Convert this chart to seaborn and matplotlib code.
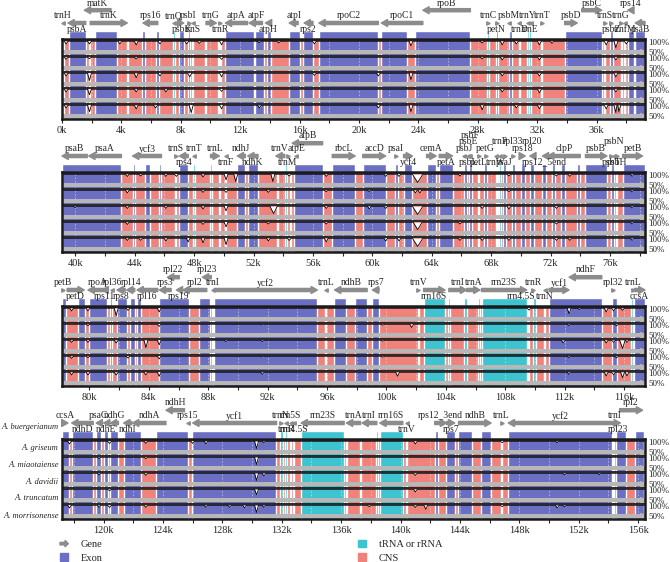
import numpy as np
import pandas as pd
import matplotlib
matplotlib.use("Agg")
import matplotlib.pyplot as plt
import seaborn as sns
from matplotlib.patches import Patch, FancyArrow
from matplotlib.legend_handler import HandlerPatch

sns.set_style("white")
plt.rcParams['font.family'] = ['Liberation Serif', 'DejaVu Serif']

# ---- data (kb) ----
species = ["A. buergerianum", "A. griseum", "A. miaotaiense", "A. davidii",
           "A. truncatum", "A. morrisonense"]

panel_start = [0, 39.1, 78.15, 117.2]
panel_span = 39.26

# exon blocks and tRNA/rRNA blocks; everything else is CNS
exon_blocks = [(0.5, 1.6), (2.2, 3.7), (5.4, 5.6), (6.35, 6.5), (7.9, 8.2), (8.47, 8.63),
               (10.95, 12.95), (13.0, 13.6), (13.8, 14.1), (15.3, 16.0), (16.25, 16.9),
               (17.3, 21.3), (21.5, 23.2), (23.8, 27.5), (29.2, 29.35), (30.1, 30.3),
               (33.85, 36.35), (36.9, 37.1), (38.1, 38.5), (38.6, 43.1),
               (43.85, 44.0), (44.7, 45.0), (45.65, 45.8), (47.0, 47.6), (50.9, 51.45),
               (51.6, 52.3), (54.7, 56.65), (57.3, 58.85), (59.35, 60.9), (61.5, 61.7),
               (62.1, 62.7), (63.65, 64.3), (64.5, 65.4), (66.2, 66.35), (66.5, 66.7),
               (67.1, 67.2), (67.55, 67.7), (68.8, 69.0), (69.4, 69.6), (70.0, 70.3),
               (70.6, 70.9), (71.45, 71.7), (72.1, 72.3), (72.7, 73.0), (73.8, 74.0),
               (74.35, 75.8), (76.1, 76.25), (76.4, 76.5), (76.85, 78.4),
               (79.2, 79.7), (79.95, 81.2), (81.35, 81.55), (81.85, 82.5), (82.7, 83.05),
               (83.2, 83.5), (84.7, 86.7), (87.4, 88.15), (88.4, 95.3), (96.5, 97.3),
               (97.9, 98.7), (99.05, 99.5), (110.95, 114.5), (115.2, 115.5), (116.7, 117.65),
               (117.85, 119.3), (119.5, 119.8), (120.0, 120.3), (120.45, 121.0),
               (121.35, 122.55), (123.55, 125.7), (125.95, 131.6), (142.3, 142.5),
               (143.05, 143.65), (143.9, 144.8), (145.4, 146.1), (147.25, 154.25),
               (154.5, 155.2), (155.8, 156.4)]
rna_blocks = [(0.05, 0.15), (1.8, 1.9), (4.35, 4.45), (7.5, 7.6), (8.75, 8.83), (9.65, 9.73),
              (10.5, 10.57), (10.65, 10.73), (28.65, 28.75), (30.75, 30.85), (31.33, 31.43),
              (31.48, 31.58), (32.25, 32.35), (36.48, 36.56), (37.65, 37.73), (37.85, 37.93),
              (46.7, 46.8), (47.95, 48.05), (49.1, 49.2), (49.65, 49.75), (50.05, 50.15),
              (53.55, 53.65), (54.15, 54.25), (54.45, 54.55), (68.3, 68.4), (68.45, 68.52),
              (68.55, 68.65),
              (88.25, 88.35), (95.85, 95.95), (102.1, 102.2), (102.5, 103.95), (104.15, 104.25),
              (105.25, 105.4), (106.15, 106.3), (106.4, 109.45), (109.5, 109.58),
              (109.9, 110.05), (110.6, 110.7), (116.5, 116.6),
              (131.85, 132.05), (132.25, 132.35), (132.55, 132.63), (132.75, 132.83),
              (133.3, 136.2), (136.3, 136.4), (137.25, 137.35), (138.35, 138.45),
              (138.6, 140.15), (140.35, 140.45), (146.75, 146.85), (154.28, 154.36)]

# genes: (name, start, end, strand, lane)
genes_p1 = [("trnH", 0.0, 0.1, -1, "a"), ("psbA", 0.4, 1.6, -1, "b"), ("matK", 1.5, 3.3, -1, "c"),
            ("trnK", 1.9, 4.4, 1, "a"), ("rps16", 5.45, 6.45, -1, "a"), ("trnQ", 7.5, 7.6, -1, "a"),
            ("psbK", 7.9, 8.2, 1, "b"), ("psbI", 8.45, 8.6, 1, "a"), ("trnS", 8.75, 8.85, -1, "b"),
            ("trnG", 9.7, 10.4, 1, "a"), ("trnR", 10.6, 10.7, 1, "b"), ("atpA", 11.0, 12.5, -1, "a"),
            ("atpF", 12.6, 13.5, -1, "a"), ("atpH", 13.7, 14.0, -1, "b"), ("atpI", 15.3, 15.9, -1, "a"),
            ("rps2", 16.3, 16.9, -1, "b"), ("rpoC2", 17.3, 21.3, -1, "a"), ("rpoC1", 21.5, 24.3, -1, "a"),
            ("rpoB", 24.3, 27.5, -1, "c"), ("trnC", 28.65, 28.75, 1, "a"), ("petN", 29.2, 29.35, 1, "b"),
            ("psbM", 30.05, 30.15, -1, "a"), ("trnD", 30.75, 30.85, -1, "b"),
            ("trnY", 31.3, 31.4, -1, "a"), ("trnE", 31.5, 31.6, -1, "b"), ("trnT", 32.3, 32.4, 1, "a"),
            ("psbD", 33.85, 34.7, 1, "a"), ("psbC", 35.0, 36.35, 1, "c"), ("trnS", 36.55, 36.65, 1, "a"),
            ("psbZ", 36.95, 37.05, 1, "b"), ("trnG", 37.6, 37.7, 1, "a"), ("trnfM", 37.85, 37.95, -1, "b"),
            ("rps14", 38.1, 38.5, -1, "c"), ("psaB", 38.6, 39.3, -1, "b")]
genes_p2 = [("psaB", 39.1, 40.8, -1, "a"), ("psaA", 40.9, 43.1, -1, "a"), ("ycf3", 43.85, 45.8, -1, "a"),
            ("trnS", 46.7, 46.8, 1, "a"), ("rps4", 47.0, 47.6, -1, "b"), ("trnT", 47.95, 48.05, -1, "a"),
            ("trnL", 49.1, 49.7, 1, "a"), ("trnF", 50.1, 50.2, -1, "b"), ("ndhJ", 50.9, 51.45, -1, "a"),
            ("ndhK", 51.6, 52.3, -1, "b"), ("trnV", 53.5, 54.1, -1, "a"), ("trnM", 54.25, 54.35, 1, "b"),
            ("atpE", 54.8, 54.95, -1, "a"), ("atpB", 54.6, 56.65, -1, "c"), ("rbcL", 57.3, 58.85, 1, "a"),
            ("accD", 59.35, 60.9, 1, "a"), ("psaI", 61.5, 61.7, 1, "a"), ("ycf4", 62.1, 62.7, 1, "b"),
            ("cemA", 63.65, 64.3, 1, "a"), ("petA", 64.5, 65.4, 1, "b"), ("psbJ", 66.15, 66.25, -1, "a"),
            ("psbE", 66.45, 66.55, -1, "e"), ("psbF", 66.55, 66.65, -1, "f"), ("psbL", 66.4, 66.5, -1, "b"),
            ("petL", 67.1, 67.2, 1, "b"), ("petG", 67.55, 67.7, 1, "a"), ("trnW", 68.3, 68.4, -1, "b"),
            ("trnP", 68.55, 68.65, -1, "e"), ("psaJ", 68.8, 69.0, 1, "b"), ("rpl33", 69.4, 69.6, 1, "e"),
            ("rps18", 70.0, 70.3, 1, "a"), ("rpl20", 70.6, 70.9, -1, "e"),
            ("rps12_5end", 71.45, 71.7, -1, "b"), ("clpP", 71.8, 74.0, -1, "a"),
            ("psbB", 74.35, 75.8, 1, "a"), ("psbT", 76.05, 76.15, 1, "b"), ("psbN", 76.2, 76.3, -1, "e"),
            ("psbH", 76.4, 76.5, 1, "b"), ("petB", 76.85, 78.2, 1, "a")]
genes_p3 = [("petB", 78.15, 78.3, 1, "a"), ("petD", 78.5, 79.65, 1, "b"), ("rpoA", 79.9, 81.2, -1, "a"),
            ("rps11", 80.85, 81.1, -1, "b"), ("rpl36", 81.45, 81.55, -1, "a"), ("rps8", 81.85, 82.4, -1, "b"),
            ("rpl14", 82.5, 83.05, -1, "a"), ("rpl16", 83.2, 84.6, -1, "b"), ("rps3", 84.7, 85.5, -1, "a"),
            ("rpl22", 85.25, 86.05, -1, "c"), ("rps19", 85.85, 86.2, -1, "b"), ("rpl2", 86.3, 87.9, -1, "a"),
            ("rpl23", 87.6, 88.2, -1, "c"), ("trnI", 88.25, 88.35, -1, "a"), ("ycf2", 88.4, 95.35, 1, "a"),
            ("trnL", 95.9, 96.0, -1, "a"), ("ndhB", 96.5, 98.7, -1, "a"), ("rps7", 99.05, 99.5, -1, "a"),
            ("trnV", 102.1, 102.2, 1, "a"), ("rrn16S", 102.5, 103.95, 1, "b"), ("trnI", 104.2, 105.4, 1, "a"),
            ("trnA", 105.4, 106.3, 1, "a"), ("rrn23S", 106.4, 109.45, 1, "a"),
            ("rrn4.5S", 109.0, 109.1, 1, "b"), ("trnR", 109.85, 109.95, 1, "a"),
            ("trnN", 110.6, 110.7, -1, "b"), ("ycf1", 110.95, 112.3, 1, "a"), ("ndhF", 112.3, 114.5, -1, "c"),
            ("rpl32", 115.2, 115.3, 1, "a"), ("trnL", 116.55, 116.65, 1, "a"), ("ccsA", 116.7, 117.41, 1, "b")]
genes_p4 = [("ccsA", 117.2, 117.6, 1, "a"), ("ndhD", 117.85, 119.3, -1, "b"), ("psaC", 119.5, 119.8, -1, "a"),
            ("ndhE", 120.0, 120.3, -1, "b"), ("ndhG", 120.45, 121.0, -1, "a"), ("ndhI", 121.35, 121.9, -1, "b"),
            ("ndhA", 121.95, 124.2, -1, "a"), ("ndhH", 124.2, 125.45, -1, "c"), ("rps15", 125.6, 125.75, -1, "a"),
            ("ycf1", 126.0, 131.65, -1, "a"), ("trnN", 131.9, 132.0, 1, "a"), ("trnR", 132.25, 132.35, -1, "b"),
            ("rrn5S", 132.55, 132.65, -1, "a"), ("rrn4.5S", 132.8, 132.9, -1, "b"),
            ("rrn23S", 133.3, 136.2, -1, "a"), ("trnA", 136.35, 137.3, -1, "a"), ("trnI", 137.4, 138.4, -1, "a"),
            ("rrn16S", 138.6, 140.15, -1, "a"), ("trnV", 140.35, 140.45, -1, "b"),
            ("rps12_3end", 142.3, 143.1, 1, "a"), ("rps7", 143.1, 143.65, 1, "b"), ("ndhB", 143.9, 146.1, 1, "a"),
            ("trnL", 146.75, 146.85, 1, "a"), ("ycf2", 147.25, 154.25, -1, "a"), ("trnI", 154.35, 154.45, 1, "a"),
            ("rpl23", 154.5, 154.8, 1, "b"), ("rpl2", 154.75, 156.3, 1, "c")]
panel_genes = [genes_p1, genes_p2, genes_p3, genes_p4]

# conservation dips per compared species: (position kb, identity %[, half width kb])
dips_griseum = [(0.28, 85), (1.85, 85), (3.9, 85), (5.0, 80), (6.6, 85), (8.4, 85), (9.25, 88),
                (10.75, 80), (13.3, 92), (14.6, 90), (17.0, 85), (23.5, 75), (28.3, 90),
                (29.65, 80), (30.6, 85), (32.15, 80), (33.0, 88), (36.65, 80), (37.3, 65),
                (38.0, 85), (43.5, 88), (44.4, 90), (46.1, 88), (46.8, 88), (48.6, 85),
                (50.15, 70), (50.8, 60), (53.3, 60), (54.4, 90), (56.9, 88), (60.9, 88),
                (61.8, 88), (63.05, 55, 0.35), (65.9, 90), (69.2, 90), (72.4, 90), (73.3, 88),
                (77.5, 88), (78.8, 85), (79.9, 85), (81.8, 60), (82.6, 88), (84.7, 80),
                (109.6, 90), (112.3, 70), (113.0, 92), (114.8, 80), (115.3, 85), (115.9, 88),
                (117.7, 85), (120.4, 88), (122.85, 88), (126.0, 88), (126.9, 85), (130.3, 60),
                (130.8, 92), (141.0, 85), (146.85, 92), (150.55, 92)]
dips_miaotaiense = [(0.28, 88), (1.85, 92), (5.0, 90), (10.75, 88), (28.3, 90), (29.65, 85),
                    (32.15, 85), (37.3, 85), (43.5, 85), (48.6, 88), (50.15, 88), (53.0, 88),
                    (56.9, 92), (59.8, 92), (62.9, 85), (63.2, 85), (69.2, 92), (77.5, 90),
                    (79.9, 92), (84.7, 88), (91.65, 95), (99.75, 95), (101.7, 82), (112.3, 92),
                    (115.5, 92), (119.7, 92), (122.85, 92), (130.3, 60)]
dips_davidii = [(0.28, 85), (1.85, 60), (5.0, 75), (6.6, 85), (8.6, 80), (10.75, 80), (17.0, 88),
                (21.3, 85), (23.5, 65), (29.65, 85), (32.15, 85), (37.3, 80), (40.0, 92),
                (43.5, 88), (46.1, 88), (48.6, 85), (50.15, 75), (53.35, 60, 0.25), (56.9, 88),
                (59.8, 85), (60.9, 88), (63.05, 55, 0.35), (67.4, 88), (69.2, 85), (72.4, 88),
                (77.5, 90), (78.8, 88), (79.9, 88), (81.8, 85), (83.8, 60), (84.7, 75),
                (89.2, 92), (91.65, 92), (99.75, 95), (111.9, 85), (114.8, 85), (115.3, 88),
                (115.9, 55, 0.2), (116.2, 88), (119.7, 90), (122.85, 88), (130.3, 60),
                (130.8, 85), (141.0, 88), (151.05, 90), (153.4, 92)]
dips_truncatum = [(0.28, 85), (1.85, 70), (5.0, 85), (7.0, 85), (10.75, 88), (29.65, 85),
                  (32.15, 80), (37.3, 85), (43.5, 88), (48.6, 88), (50.15, 75), (53.0, 90),
                  (56.9, 90), (63.05, 60, 0.3), (65.9, 90), (72.4, 90), (77.5, 90), (78.8, 88),
                  (79.9, 92), (82.6, 90), (84.7, 85), (91.65, 95), (99.75, 95), (112.3, 92),
                  (115.5, 92), (120.4, 92), (130.3, 70), (141.0, 85)]
dips_morrisonense = [(0.28, 85), (1.85, 65), (5.0, 80), (6.3, 85), (8.7, 60), (10.75, 80),
                     (13.3, 85), (21.3, 85), (23.5, 65), (28.3, 75), (30.6, 85), (32.15, 80),
                     (36.65, 80), (37.3, 60), (37.5, 65), (43.5, 88), (44.4, 88), (46.1, 85),
                     (47.6, 80), (48.6, 75), (50.15, 65), (53.0, 85), (54.4, 88), (56.9, 80),
                     (60.9, 85), (61.8, 85), (63.05, 55, 0.35), (65.9, 88), (67.4, 88),
                     (69.2, 88), (72.4, 88), (73.3, 88), (77.5, 88), (78.8, 85), (79.9, 85),
                     (81.8, 85), (83.8, 85), (84.7, 78), (91.65, 88), (100.75, 78), (112.3, 88),
                     (114.8, 80), (115.3, 85), (115.9, 70), (116.2, 80), (117.7, 85),
                     (119.7, 88), (120.4, 88), (122.85, 88), (126.9, 88), (128.5, 88),
                     (129.5, 85), (130.3, 60), (130.8, 88), (137.9, 92), (141.0, 88),
                     (141.7, 78), (146.85, 92), (150.55, 85), (151.05, 90)]
track_dips = [dips_griseum, dips_miaotaiense, dips_davidii, dips_truncatum, dips_morrisonense]

# ---- style ----
EXON = "#6b6fc4"
RNA = "#3ec4d0"
CNS = "#f0827b"
GREY = "#8c8c8c"
lane_pos = {"a": (6.0, 6.45), "b": (6.0, 5.62), "c": (6.8, 7.25),
            "e": (6.0, 6.88), "f": (6.0, 7.3)}

W, H = 670, 562
box_tops = [39, 172, 306, 439]
fig = plt.figure(figsize=(6.7, 5.62), dpi=100)


def yv(base, v):
    return base + 0.29 + (v - 50) / 50 * 0.57


for k, x0 in enumerate(panel_start):
    x1 = x0 + panel_span
    ax = fig.add_axes([62 / W, 1 - (box_tops[k] + 80) / H, 583 / W, 80 / H])
    ax.set_xlim(x0, x1)
    ax.set_ylim(0, 5)
    ax.set_facecolor(CNS)

    # blocks inside the tracks and in the strip above the box
    for blocks, col in ((exon_blocks, EXON), (rna_blocks, RNA)):
        rngs = []
        for s, e in blocks:
            s2, e2 = max(s, x0), min(e, x1)
            if s2 < e2:
                rngs.append((s2, e2 - s2))
        ax.broken_barh(rngs, (0, 5), facecolors=col, zorder=1)
        ax.broken_barh(rngs, (5.0, 0.5), facecolors=col, zorder=1, clip_on=False)

    ticks = np.arange(np.ceil(x0 / 2) * 2, x1, 2)
    ax.vlines(ticks, 0, 5, colors="white", linestyles=(0, (2, 2)), lw=0.6, alpha=0.5, zorder=2)

    # conservation tracks
    for i, dl in enumerate(track_dips):
        base = 4 - i
        pts = []
        for d in dl:
            p, v = d[0], d[1]
            w = d[2] if len(d) > 2 else 0.13
            if x0 - w <= p <= x1 + w:
                pts += [(p - w, 100), (p, v), (p + w, 100)]
        pts.sort(key=lambda t: t[0])
        xs = np.array([x0] + [p for p, v in pts] + [x1])
        ys = np.array([yv(base, v) for v in [100] + [v for p, v in pts] + [100]])
        top = base + 0.86
        ax.fill_between(xs, ys, top, color="white", lw=0, zorder=3)
        df = pd.DataFrame({"x": xs, "y": ys})
        sns.lineplot(data=df, x="x", y="y", ax=ax, color="black", lw=0.6,
                     estimator=None, sort=False, zorder=4)
        ax.axhspan(base + 0.09, base + 0.29, color="#b7b7b7", lw=0, zorder=5)
        ax.plot([x1 - 0.12], [base + 0.19], marker=">", ms=4, color="#b7b7b7", zorder=5)
        ax.axhspan(base + 0.86, base + 1.0, color="#2b2b2b", lw=0, zorder=5)
        ax.text(1.006, base + 0.75, "100%", transform=ax.get_yaxis_transform(),
                fontsize=6.5, va="center", ha="left")
        ax.text(1.006, base + 0.15, "50%", transform=ax.get_yaxis_transform(),
                fontsize=6.5, va="center", ha="left")

    # gene arrows
    for nm, s, e, st, ln in panel_genes[k]:
        s2, e2 = max(s, x0), min(e, x1)
        ay, ty = lane_pos[ln]
        cx = (s2 + e2) / 2
        if e2 - s2 < 0.25:
            ax.plot([cx], [ay], marker=">" if st > 0 else "<", ms=2.5, color=GREY,
                    clip_on=False, zorder=6)
        else:
            a, b = (s2, e2) if st > 0 else (e2, s2)
            ax.annotate("", xy=(b, ay), xytext=(a, ay), annotation_clip=False,
                        arrowprops=dict(arrowstyle="simple,head_length=0.9,head_width=1.0,tail_width=0.45",
                                        color=GREY, mutation_scale=5, shrinkA=0, shrinkB=0))
        ax.text(cx, ty, nm, fontsize=6.9, ha="center", va="center", clip_on=False, zorder=7)

    ax.set_xticks(ticks)
    ax.set_xticklabels([f"{int(t)}k" if int(t) % 4 == 0 else "" for t in ticks])
    ax.tick_params(axis="x", direction="out", length=3, width=0.8, pad=2, labelsize=7.5,
                   bottom=True)
    ax.set_yticks([])
    ax.set_xlabel("")
    ax.set_ylabel("")
    for sp in ax.spines.values():
        sp.set_linewidth(1.8)
        sp.set_color("#1a1a1a")
        sp.set_zorder(8)

    if k == 3:
        for lab, y in zip(species, [5.75, 4.44, 3.4, 2.3, 1.3, 0.2]):
            ax.text(-0.006, y, lab, transform=ax.get_yaxis_transform(), fontsize=6.1,
                    style="italic", ha="right", va="center")


def arrow_handle(legend, orig_handle, xdescent, ydescent, width, height, fontsize):
    return FancyArrow(0, height / 2, width, 0, width=height * 0.35, head_width=height * 0.9,
                      head_length=width * 0.4, length_includes_head=True, color=GREY)


gene_h = Patch(color=GREY)
fig.legend(handles=[gene_h, Patch(color=EXON), Patch(color=RNA), Patch(color=CNS)],
           labels=["Gene", "Exon", "tRNA or rRNA", "CNS"], ncol=2, loc="upper left",
           bbox_to_anchor=(60 / W, 1 - 540 / H), frameon=False, fontsize=7.5,
           handlelength=0.8, handleheight=0.7, handletextpad=1.2, columnspacing=24.5,
           labelspacing=0.4, borderpad=0, borderaxespad=0,
           handler_map={gene_h: HandlerPatch(patch_func=arrow_handle)})

fig.savefig("out.png", dpi=100, facecolor="white")
